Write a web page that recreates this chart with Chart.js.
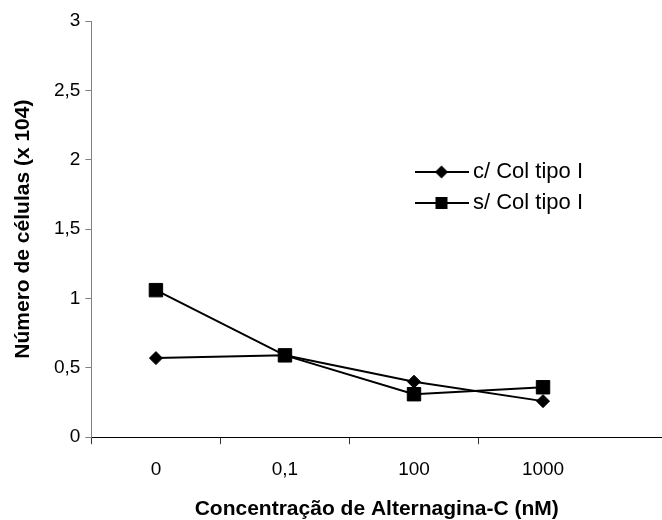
<!DOCTYPE html>
<html>
<head>
<meta charset="utf-8">
<script src="https://cdn.jsdelivr.net/npm/chart.js@4/dist/chart.umd.min.js"></script>
<style>
  html, body { margin: 0; padding: 0; background: #fff; }
  #c { display: block; }
</style>
</head>
<body>
<canvas id="c" width="662" height="520"></canvas>
<script>
// Cell counts (x 10^4) for each Alternagina-C concentration
const categories = ['0', '0,1', '100', '1000'];
const comColageno = [0.57, 0.59, 0.40, 0.26];   // c/ Col tipo I
const semColageno = [1.06, 0.59, 0.31, 0.36];   // s/ Col tipo I
const yTicks = [0, 0.5, 1, 1.5, 2, 2.5, 3];
const seriesNames = ['c/ Col tipo I', 's/ Col tipo I'];

const FONT = "'Liberation Sans', Arial, sans-serif";

function toPoints(values) {
  return values.map((v, i) => ({ x: i, y: v }));
}

// Legend sample: a short line with the series marker in the middle
function legendIcon(shape) {
  const cv = document.createElement('canvas');
  cv.width = 54; cv.height = 16;
  const g = cv.getContext('2d');
  g.strokeStyle = '#000';
  g.lineWidth = 2;
  g.beginPath(); g.moveTo(0, 8); g.lineTo(54, 8); g.stroke();
  g.fillStyle = '#000';
  g.beginPath();
  if (shape === 'diamond') {
    g.moveTo(27, 1.5); g.lineTo(33.5, 8); g.lineTo(27, 14.5); g.lineTo(20.5, 8);
  } else {
    g.rect(21, 2, 12, 12);
  }
  g.closePath(); g.fill();
  return cv;
}
const icons = [legendIcon('diamond'), legendIcon('square')];

// Places the legend block inside the plot, to the right
const legendPlacer = {
  id: 'legendPlacer',
  afterLayout(chart) {
    const lg = chart.legend;
    if (!lg) return;
    lg.left = 412; lg.top = 152;
    lg.right = lg.left + 245; lg.bottom = lg.top + 90;
  }
};

new Chart(document.getElementById('c'), {
  type: 'line',
  data: {
    datasets: [
      {
        label: seriesNames[0],
        data: toPoints(comColageno),
        borderColor: '#000',
        backgroundColor: '#000',
        borderWidth: 2,
        pointStyle: 'rectRot',
        pointRadius: 6.5,
        pointBorderWidth: 1,
        pointBackgroundColor: '#000',
        pointBorderColor: '#000',
        tension: 0
      },
      {
        label: seriesNames[1],
        data: toPoints(semColageno),
        borderColor: '#000',
        backgroundColor: '#000',
        borderWidth: 2,
        pointStyle: 'rect',
        pointRadius: 9.5,
        pointBorderWidth: 1,
        pointBackgroundColor: '#000',
        pointBorderColor: '#000',
        tension: 0
      }
    ]
  },
  options: {
    responsive: false,
    animation: false,
    layout: { autoPadding: false, padding: { top: 21, right: 0, bottom: 0, left: 0 } },
    plugins: {
      tooltip: { enabled: false },
      legend: {
        position: 'chartArea',
        align: 'start',
        labels: {
          usePointStyle: true,
          pointStyleWidth: 41,
          boxHeight: 16,
          padding: 9,
          color: '#000',
          font: { family: FONT, size: 22 },
          generateLabels(chart) {
            return chart.data.datasets.map((ds, i) => ({
              text: ds.label,
              pointStyle: icons[i],
              fillStyle: '#000',
              strokeStyle: '#000',
              lineWidth: 0,
              fontColor: '#000',
              datasetIndex: i,
              hidden: false
            }));
          }
        }
      }
    },
    scales: {
      x: {
        type: 'linear',
        min: -0.5,
        max: 3.922,
        afterBuildTicks(scale) {
          const t = [];
          categories.forEach((c, i) => { t.push({ value: i - 0.5 }); t.push({ value: i }); });
          scale.ticks = t;
        },
        afterFit(scale) {
          scale.paddingLeft = 0;
          scale.paddingRight = 0;
        },
        grid: {
          drawOnChartArea: false,
          tickLength: 7,
          lineWidth: 1,
          tickColor: (ctx) => (ctx.tick && Number.isInteger(ctx.tick.value)) ? 'rgba(0,0,0,0)' : '#333'
        },
        border: { color: '#000', width: 1 },
        ticks: {
          autoSkip: false,
          maxRotation: 0,
          padding: 14,
          color: '#000',
          font: { family: FONT, size: 19 },
          callback: (v) => Number.isInteger(v) ? categories[v] : ''
        },
        title: {
          display: true,
          text: 'Concentração de Alternagina-C (nM)',
          color: '#000',
          font: { family: FONT, size: 21, weight: 'bold', lineHeight: 1 },
          padding: { top: 4, bottom: 0 }
        }
      },
      y: {
        type: 'linear',
        min: 0,
        max: 3,
        afterBuildTicks(scale) {
          scale.ticks = yTicks.map(v => ({ value: v }));
        },
        grid: {
          drawOnChartArea: false,
          tickLength: 6,
          color: '#808080'
        },
        border: { color: '#808080', width: 1 },
        ticks: {
          padding: 5,
          color: '#000',
          font: { family: FONT, size: 19 },
          callback: (v) => String(v).replace('.', ',')
        },
        title: {
          display: true,
          text: 'Número de células (x 104)',
          color: '#000',
          font: { family: FONT, size: 21, weight: 'bold', lineHeight: 1 },
          padding: { top: 13, bottom: 15 }
        }
      }
    }
  },
  plugins: [legendPlacer]
});
</script>
</body>
</html>
